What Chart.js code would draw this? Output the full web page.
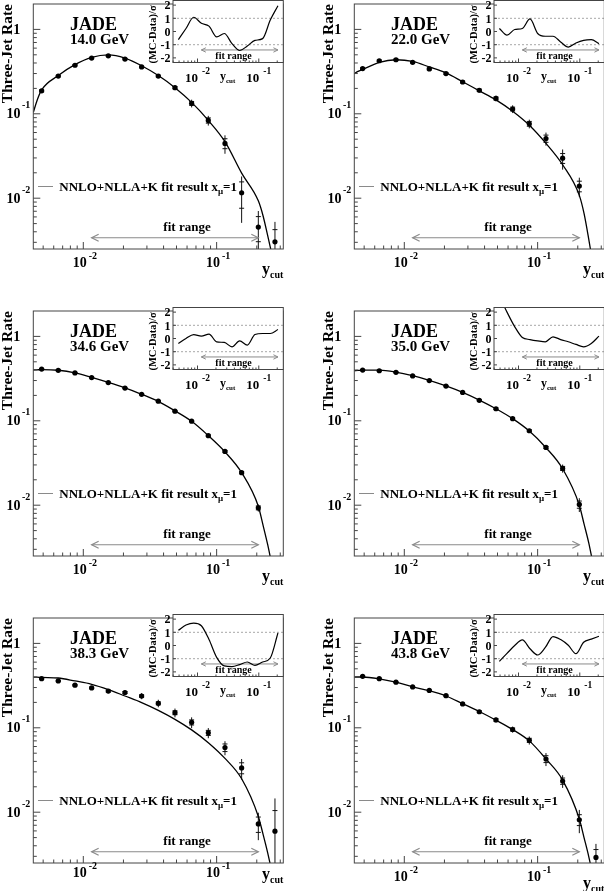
<!DOCTYPE html>
<html>
<head>
<meta charset="utf-8">
<script src="https://cdn.jsdelivr.net/npm/chart.js@4.4.1/dist/chart.umd.min.js"></script>
<style>
  html, body { margin: 0; padding: 0; background: #fff; }
  #page { position: relative; width: 604px; height: 891px; overflow: hidden; background: #fff; }
  #page canvas { position: absolute; }
</style>
</head>
<body>
<div id="page"></div>
<script>
// y_cut bin centres (shared by all energies)
const yCut = [0.00487, 0.00649, 0.00866, 0.01155, 0.0154, 0.02054, 0.02738, 0.03652, 0.0487, 0.06494, 0.0866, 0.1155, 0.154, 0.2054, 0.2738];
const fitX = [0.00422, 0.0045, 0.00487, 0.00649, 0.00866, 0.01155, 0.0154, 0.02054, 0.02738, 0.03652, 0.0487, 0.06494, 0.0866, 0.1155, 0.154, 0.2054, 0.2228, 0.2415, 0.259];
const energies = ['14.0 GeV', '22.0 GeV', '34.6 GeV', '35.0 GeV', '38.3 GeV', '43.8 GeV'];
const fitRange = [0.01155, 0.2054];

// 14.0 GeV
const rate14 = [0.187, 0.280, 0.376, 0.457, 0.486, 0.445, 0.359, 0.280, 0.204, 0.133, 0.0835, 0.0446, 0.0116, 0.00455, 0.00304];
const err14 = [0.010, 0.013, 0.016, 0.018, 0.018, 0.017, 0.015, 0.013, 0.012, 0.014, 0.011, 0.011, 0.0065, 0.0025, 0.0022];
const stat14 = [0.005, 0.006, 0.007, 0.008, 0.008, 0.008, 0.007, 0.006, 0.006, 0.007, 0.006, 0.006, 0.004, 0.0015, 0.0012];
const fit14 = [0.104, 0.144, 0.192, 0.284, 0.382, 0.466, 0.499, 0.457, 0.371, 0.284, 0.204, 0.1365, 0.0835, 0.0467, 0.0198, 0.0093, 0.0062, 0.0036, 0.0022];
const pull14 = [-0.62, 0.23, 1.08, 0.62, 0.41, -0.41, -0.15, -0.92, -1.44, -1.1, -0.67, -0.54, 0.87, 1.95];

// 22.0 GeV
const rate22 = [0.343, 0.425, 0.437, 0.407, 0.340, 0.300, 0.238, 0.190, 0.152, 0.114, 0.0762, 0.0509, 0.0298, 0.0139];
const err22 = [0.018, 0.016, 0.016, 0.015, 0.018, 0.014, 0.013, 0.012, 0.012, 0.012, 0.009, 0.009, 0.008, 0.0036];
const stat22 = [0.008, 0.008, 0.008, 0.007, 0.008, 0.007, 0.006, 0.006, 0.006, 0.006, 0.005, 0.005, 0.004, 0.002];
const fit22 = [0.300, 0.318, 0.335, 0.407, 0.437, 0.417, 0.359, 0.305, 0.240, 0.187, 0.146, 0.107, 0.0731, 0.0446, 0.0249, 0.0108, 0.0066, 0.0033, 0.0017];
const pull22 = [0.23, -0.28, 0.15, 0.23, 0.95, -0.15, -0.36, -0.36, -0.79, -1.18, -0.87, -0.67, -0.62, -0.92];

// 34.6 GeV
const rate346 = [0.410, 0.396, 0.369, 0.325, 0.284, 0.244, 0.206, 0.171, 0.130, 0.0989, 0.0667, 0.0434, 0.0243, 0.0093];
const err346 = [0.012, 0.011, 0.010, 0.009, 0.008, 0.007, 0.006, 0.005, 0.004, 0.003, 0.0025, 0.0018, 0.0014, 0.0009];
const stat346 = [0.006, 0.005, 0.005, 0.004, 0.004, 0.003, 0.003, 0.003, 0.002, 0.0015, 0.0012, 0.001, 0.0007, 0.0005];
const fit346 = [0.400, 0.402, 0.404, 0.397, 0.370, 0.327, 0.285, 0.245, 0.206, 0.170, 0.131, 0.0985, 0.0667, 0.0428, 0.0243, 0.0097, 0.0058, 0.0034, 0.0020];
const pull346 = [-0.38, 0.0, 0.3, 0.18, 0.33, -0.25, -0.3, -0.63, -0.18, -0.5, 0.3, 0.38, 0.38, 0.68];

// 35.0 GeV
const rate35 = [0.3995, 0.392, 0.3755, 0.340, 0.300, 0.258, 0.217, 0.175, 0.139, 0.106, 0.0762, 0.0483, 0.0273, 0.0102];
const err35 = [0.012, 0.011, 0.010, 0.009, 0.008, 0.007, 0.006, 0.005, 0.004, 0.004, 0.004, 0.002, 0.003, 0.0019];
const stat35 = [0.006, 0.005, 0.005, 0.005, 0.004, 0.004, 0.003, 0.003, 0.003, 0.002, 0.002, 0.0013, 0.0015, 0.001];
const fit35 = [0.392, 0.395, 0.398, 0.398, 0.378, 0.343, 0.302, 0.259, 0.217, 0.176, 0.139, 0.106, 0.0755, 0.0480, 0.0270, 0.0100, 0.0060, 0.0036, 0.0021];
const pull35 = [3.2, 2.0, 0.9, 0.08, -0.08, -0.18, -0.25, 0.13, -0.08, -0.25, -0.45, -0.63, -0.38, 0.18];

// 38.3 GeV
const rate383 = [0.382, 0.359, 0.320, 0.297, 0.272, 0.262, 0.238, 0.195, 0.151, 0.116, 0.0872, 0.0583, 0.0335, 0.00726, 0.00595];
const err383 = [0.012, 0.012, 0.014, 0.015, 0.015, 0.017, 0.020, 0.020, 0.018, 0.017, 0.012, 0.011, 0.0092, 0.0026, 0.0086];
const stat383 = [0.005, 0.005, 0.006, 0.006, 0.007, 0.007, 0.008, 0.008, 0.008, 0.008, 0.006, 0.006, 0.005, 0.0015, 0.0045];
const fit383 = [0.3995, 0.398, 0.395, 0.389, 0.359, 0.328, 0.284, 0.238, 0.199, 0.161, 0.126, 0.0945, 0.0667, 0.0434, 0.0249, 0.0089, 0.0055, 0.0033, 0.0020];
const pull383 = [1.15, 1.55, 1.7, 1.5, 0.45, -0.9, -1.55, -1.6, -1.45, -1.25, -1.5, -1.25, -0.95, 0.95];

// 43.8 GeV
const rate438 = [0.407, 0.382, 0.347, 0.305, 0.277, 0.240, 0.192, 0.155, 0.124, 0.0955, 0.0711, 0.0427, 0.0234, 0.00814, 0.00291];
const err438 = [0.010, 0.009, 0.009, 0.008, 0.008, 0.008, 0.008, 0.008, 0.008, 0.008, 0.0078, 0.0075, 0.004, 0.0025, 0.0013];
const stat438 = [0.005, 0.005, 0.004, 0.004, 0.004, 0.004, 0.004, 0.004, 0.004, 0.004, 0.004, 0.004, 0.002, 0.0012, 0.0007];
const fit438 = [0.3995, 0.400, 0.400, 0.381, 0.347, 0.306, 0.275, 0.238, 0.193, 0.156, 0.123, 0.0955, 0.0700, 0.0427, 0.0240, 0.0083, 0.0050, 0.0030, 0.0018];
const pull438 = [-1.2, -0.6, 0.0, 0.42, -0.25, -0.72, -0.15, 0.68, 0.45, 0.02, -0.62, 0.25, 0.48, 0.7];

// axis ticks
const xTicks = [0.01, 0.1];
const xTickExp = ['-2', '-1'];
const yTicks = [1, 0.1, 0.01];
const yTickExp = ['', '-1', '-2'];
const pullTicks = [2, 1, 0, -1, -2];

const panels = [
  { e: energies[0], rate: rate14, err: err14, stat: stat14, fit: fit14, pull: pull14 },
  { e: energies[1], rate: rate22, err: err22, stat: stat22, fit: fit22, pull: pull22 },
  { e: energies[2], rate: rate346, err: err346, stat: stat346, fit: fit346, pull: pull346 },
  { e: energies[3], rate: rate35, err: err35, stat: stat35, fit: fit35, pull: pull35 },
  { e: energies[4], rate: rate383, err: err383, stat: stat383, fit: fit383, pull: pull383 },
  { e: energies[5], rate: rate438, err: err438, stat: stat438, fit: fit438, pull: pull438 }
];

const COL_X = [0, 321];
const ROW_Y = [0, 307, 614];
// the bottom-left panel has its x labels packed closer to the frame
const TICK_DY = [0, 0, 0, 0, -3.5, 0];
const TITLE_DY = [0, 0, 0, 0, -9.5, 0];
const SERIF = '"Liberation Serif", "Times New Roman", Times, serif';
const font = px => 'bold ' + px + 'px ' + SERIF;
const page = document.getElementById('page');

function makeCanvas(x, y, w, h) {
  const c = document.createElement('canvas');
  c.width = w; c.height = h;
  c.style.left = x + 'px'; c.style.top = y + 'px';
  c.style.width = w + 'px'; c.style.height = h + 'px';
  page.appendChild(c);
  return c;
}

function line(ctx, x1, y1, x2, y2) {
  ctx.beginPath(); ctx.moveTo(x1, y1); ctx.lineTo(x2, y2); ctx.stroke();
}

function arrow(ctx, x1, x2, y, len, half) {
  line(ctx, x1, y, x2, y);
  ctx.beginPath(); ctx.moveTo(x1 + len, y - half); ctx.lineTo(x1, y); ctx.lineTo(x1 + len, y + half); ctx.stroke();
  ctx.beginPath(); ctx.moveTo(x2 - len, y - half); ctx.lineTo(x2, y); ctx.lineTo(x2 - len, y + half); ctx.stroke();
}

// draw runs of [text, size, dy] one after another, returns end x
function runs(ctx, x, y, parts) {
  let cx = x;
  parts.forEach(([t, s, dy]) => {
    ctx.font = font(s);
    ctx.textAlign = 'left';
    ctx.fillText(t, cx, y + dy);
    cx += ctx.measureText(t).width;
  });
  return cx;
}

function runsWidth(ctx, parts) {
  return parts.reduce((w, [t, s]) => { ctx.font = font(s); return w + ctx.measureText(t).width; }, 0);
}

// "10" with superscript exponent, like ROOT log labels
function powLabel(ctx, x, y, exp, big, small, gap, rise, align) {
  const parts = exp ? [['10', big, 0], [exp, small, -rise]] : [['1', big, 0]];
  const w = runsWidth(ctx, parts) + (exp ? gap : 0);
  const sx = align === 'center' ? x - w / 2 : x - w;
  if (!exp) { runs(ctx, sx, y, parts); return; }
  ctx.font = font(big); ctx.textAlign = 'left';
  ctx.fillText('10', sx, y);
  const w10 = ctx.measureText('10').width;
  ctx.font = font(small);
  ctx.fillText(exp, sx + w10 + gap, y - rise);
}

function logMinor(min, max) {
  const out = [];
  for (let d = Math.floor(Math.log10(min)); d <= Math.ceil(Math.log10(max)); d++) {
    for (let k = 2; k <= 9; k++) {
      const v = k * Math.pow(10, d);
      if (v > min && v < max) out.push(v);
    }
  }
  return out;
}

const X_MIN = 0.004217, X_MAX = 0.3162;
const Y_MIN = 0.0025, Y_MAX = 2;
const IX_MIN = 0.003981, IX_MAX = 0.2512;

function mainDeco(p, k) {
  return {
    id: 'mainDeco',
    beforeDatasetsDraw(chart) {
      const { ctx, chartArea: a, scales: { x, y } } = chart;
      ctx.save();
      ctx.beginPath(); ctx.rect(a.left, a.top, a.right - a.left, a.bottom - a.top); ctx.clip();
      ctx.strokeStyle = '#111'; ctx.lineWidth = 1;
      p.rate.forEach((v, i) => {
        const px = x.getPixelForValue(yCut[i]);
        const lo = v - p.err[i];
        const yTop = y.getPixelForValue(v + p.err[i]);
        const yBot = lo > Y_MIN * 0.2 ? y.getPixelForValue(lo) : a.bottom + 5;
        line(ctx, px, yTop, px, yBot);
        [v + p.stat[i], v - p.stat[i]].forEach(s => {
          if (s > 0) { const py = y.getPixelForValue(s); line(ctx, px - 2.5, py, px + 2.5, py); }
        });
      });
      // fit range arrow
      ctx.strokeStyle = '#8a8a8a'; ctx.lineWidth = 1.2;
      arrow(ctx, x.getPixelForValue(fitRange[0]), x.getPixelForValue(fitRange[1]), y.getPixelForValue(0.0034), 7, 3.5);
      ctx.restore();
    },
    afterDraw(chart) {
      const { ctx, chartArea: a, scales: { x, y } } = chart;
      const T = a.top;
      ctx.save();
      // frame
      ctx.strokeStyle = '#444'; ctx.lineWidth = 1;
      ctx.strokeRect(a.left, a.top, a.right - a.left, a.bottom - a.top);
      // ticks
      xTicks.forEach(v => { const px = x.getPixelForValue(v); line(ctx, px, a.bottom, px, a.bottom - 7); });
      logMinor(X_MIN, X_MAX).forEach(v => { const px = x.getPixelForValue(v); line(ctx, px, a.bottom, px, a.bottom - 3.5); });
      yTicks.forEach(v => { const py = y.getPixelForValue(v); line(ctx, a.left, py, a.left + 7, py); });
      logMinor(Y_MIN, Y_MAX).forEach(v => { const py = y.getPixelForValue(v); line(ctx, a.left, py, a.left + 3.5, py); });
      // tick labels
      ctx.fillStyle = '#000';
      xTicks.forEach((v, i) => powLabel(ctx, x.getPixelForValue(v) + 1.5, a.bottom + 17.5 + TICK_DY[k], xTickExp[i], 14, 10, 2, 8, 'center'));
      yTicks.forEach((v, i) => {
        const py = y.getPixelForValue(v);
        if (yTickExp[i]) powLabel(ctx, a.left - 3, py + 4.5, yTickExp[i], 14, 10, 1.5, 10, 'right');
        else powLabel(ctx, a.left - 13, py + 5, '', 14, 10, 0, 0, 'right');
      });
      // axis titles
      const w = runsWidth(ctx, [['y', 16], ['cut', 10]]);
      runs(ctx, a.right - w, a.bottom + 25 + TITLE_DY[k], [['y', 16, 0], ['cut', 10, 4]]);
      ctx.save();
      ctx.translate(11.5, T);
      ctx.rotate(-Math.PI / 2);
      ctx.font = font(15.5); ctx.textAlign = 'right';
      ctx.fillText('Three-Jet Rate', 0, 0);
      ctx.restore();
      // experiment and energy
      ctx.font = font(18); ctx.textAlign = 'left';
      ctx.fillText('JADE', a.left + 36.7, T + 26.2);
      ctx.font = font(15);
      ctx.fillText(p.e, a.left + 36.7, T + 40);
      // legend
      ctx.strokeStyle = '#8a8a8a'; ctx.lineWidth = 1;
      line(ctx, a.left + 4.7, T + 182.5, a.left + 19.7, T + 182.5);
      runs(ctx, a.left + 26, T + 187, [['NNLO+NLLA+K fit result x', 13, 0], ['\u03bc', 9, 3], ['=1', 13, 0]]);
      // fit range label
      ctx.font = font(13); ctx.textAlign = 'center';
      ctx.fillText('fit range', a.left + 153.7, T + 227);
      ctx.restore();
    }
  };
}

const insetDeco = {
  id: 'insetDeco',
  beforeDatasetsDraw(chart) {
    const { ctx, chartArea: a, scales: { x, y } } = chart;
    ctx.save();
    ctx.fillStyle = '#fff';
    ctx.fillRect(a.left, a.top, a.right - a.left, a.bottom - a.top);
    ctx.strokeStyle = '#a8a8a8'; ctx.lineWidth = 1; ctx.setLineDash([2, 2]);
    [1, -1].forEach(v => { const py = y.getPixelForValue(v); line(ctx, a.left, py, a.right, py); });
    ctx.setLineDash([]);
    ctx.strokeStyle = '#8a8a8a';
    arrow(ctx, x.getPixelForValue(fitRange[0]), x.getPixelForValue(fitRange[1]), y.getPixelForValue(-1.4), 4.5, 2.2);
    ctx.fillStyle = '#000';
    ctx.font = font(10); ctx.textAlign = 'center';
    ctx.fillText('fit range', a.left + 60.5, a.top + 58.5);
    ctx.restore();
  },
  afterDraw(chart) {
    const { ctx, chartArea: a, scales: { x, y } } = chart;
    ctx.save();
    ctx.strokeStyle = '#444'; ctx.lineWidth = 1;
    ctx.strokeRect(a.left, a.top, a.right - a.left, a.bottom - a.top);
    xTicks.forEach(v => { const px = x.getPixelForValue(v); line(ctx, px, a.bottom, px, a.bottom - 4); });
    logMinor(IX_MIN, IX_MAX).forEach(v => { const px = x.getPixelForValue(v); line(ctx, px, a.bottom, px, a.bottom - 2); });
    pullTicks.forEach(v => { const py = y.getPixelForValue(v); line(ctx, a.left, py, a.left + 3, py); });
    ctx.fillStyle = '#000';
    xTicks.forEach((v, i) => powLabel(ctx, x.getPixelForValue(v), a.bottom + 19, xTickExp[i], 13, 9.5, 4, 7.5, 'center'));
    pullTicks.forEach(v => {
      const py = y.getPixelForValue(v);
      ctx.font = font(12); ctx.textAlign = 'right';
      ctx.fillText(String(v), a.left - 2.5, py + 4.2);
    });
    runs(ctx, a.left + 47, a.bottom + 17.5, [['y', 12, 0], ['cut', 7, 2.5]]);
    ctx.save();
    ctx.translate(a.left - 17.5, a.top + 34);
    ctx.rotate(-Math.PI / 2);
    ctx.font = font(10.5); ctx.textAlign = 'center';
    ctx.fillText('(MC-Data)/\u03c3', 0, 0);
    ctx.restore();
    ctx.restore();
  }
};

const common = {
  responsive: false,
  animation: false,
  devicePixelRatio: 1,
  events: [],
  plugins: { legend: { display: false }, tooltip: { enabled: false } }
};

panels.forEach((p, k) => {
  const ox = COL_X[k % 2];
  const oy = ROW_Y[Math.floor(k / 2)];

  // main plot
  const cv = makeCanvas(ox, oy, 300, 297);
  new Chart(cv, {
    type: 'scatter',
    data: {
      datasets: [
        {
          type: 'line',
          data: p.fit.map((v, i) => ({ x: fitX[i], y: v })),
          borderColor: '#000',
          borderWidth: 1.3,
          pointRadius: 0,
          cubicInterpolationMode: 'monotone',
          clip: 0
        },
        {
          data: p.rate.map((v, i) => ({ x: yCut[i], y: v })),
          pointRadius: 2.6,
          pointBackgroundColor: '#000',
          pointBorderColor: '#000',
          pointBorderWidth: 0,
          clip: 2
        }
      ]
    },
    options: Object.assign({}, common, {
      layout: { padding: { left: 33.3, top: 0.5, right: 16.7, bottom: 48 } },
      scales: {
        x: { type: 'logarithmic', min: X_MIN, max: X_MAX, bounds: 'data', display: false },
        y: { type: 'logarithmic', min: Y_MIN, max: Y_MAX, bounds: 'data', display: false }
      }
    }),
    plugins: [mainDeco(p, k)]
  });

  // residual inset
  const ic = makeCanvas(ox + 130, oy, 160, 92);
  new Chart(ic, {
    type: 'scatter',
    data: {
      datasets: [{
        type: 'line',
        data: p.pull.map((v, i) => ({ x: yCut[i], y: v })),
        borderColor: '#000',
        borderWidth: 1.2,
        pointRadius: 0,
        cubicInterpolationMode: 'monotone',
        clip: 0
      }]
    },
    options: Object.assign({}, common, {
      layout: { padding: { left: 43, top: 0.5, right: 6.7, bottom: 29.5 } },
      scales: {
        x: { type: 'logarithmic', min: IX_MIN, max: IX_MAX, bounds: 'data', display: false },
        y: { type: 'linear', min: -2.35, max: 2.35, bounds: 'data', display: false }
      }
    }),
    plugins: [insetDeco]
  });
});
</script>
</body>
</html>
